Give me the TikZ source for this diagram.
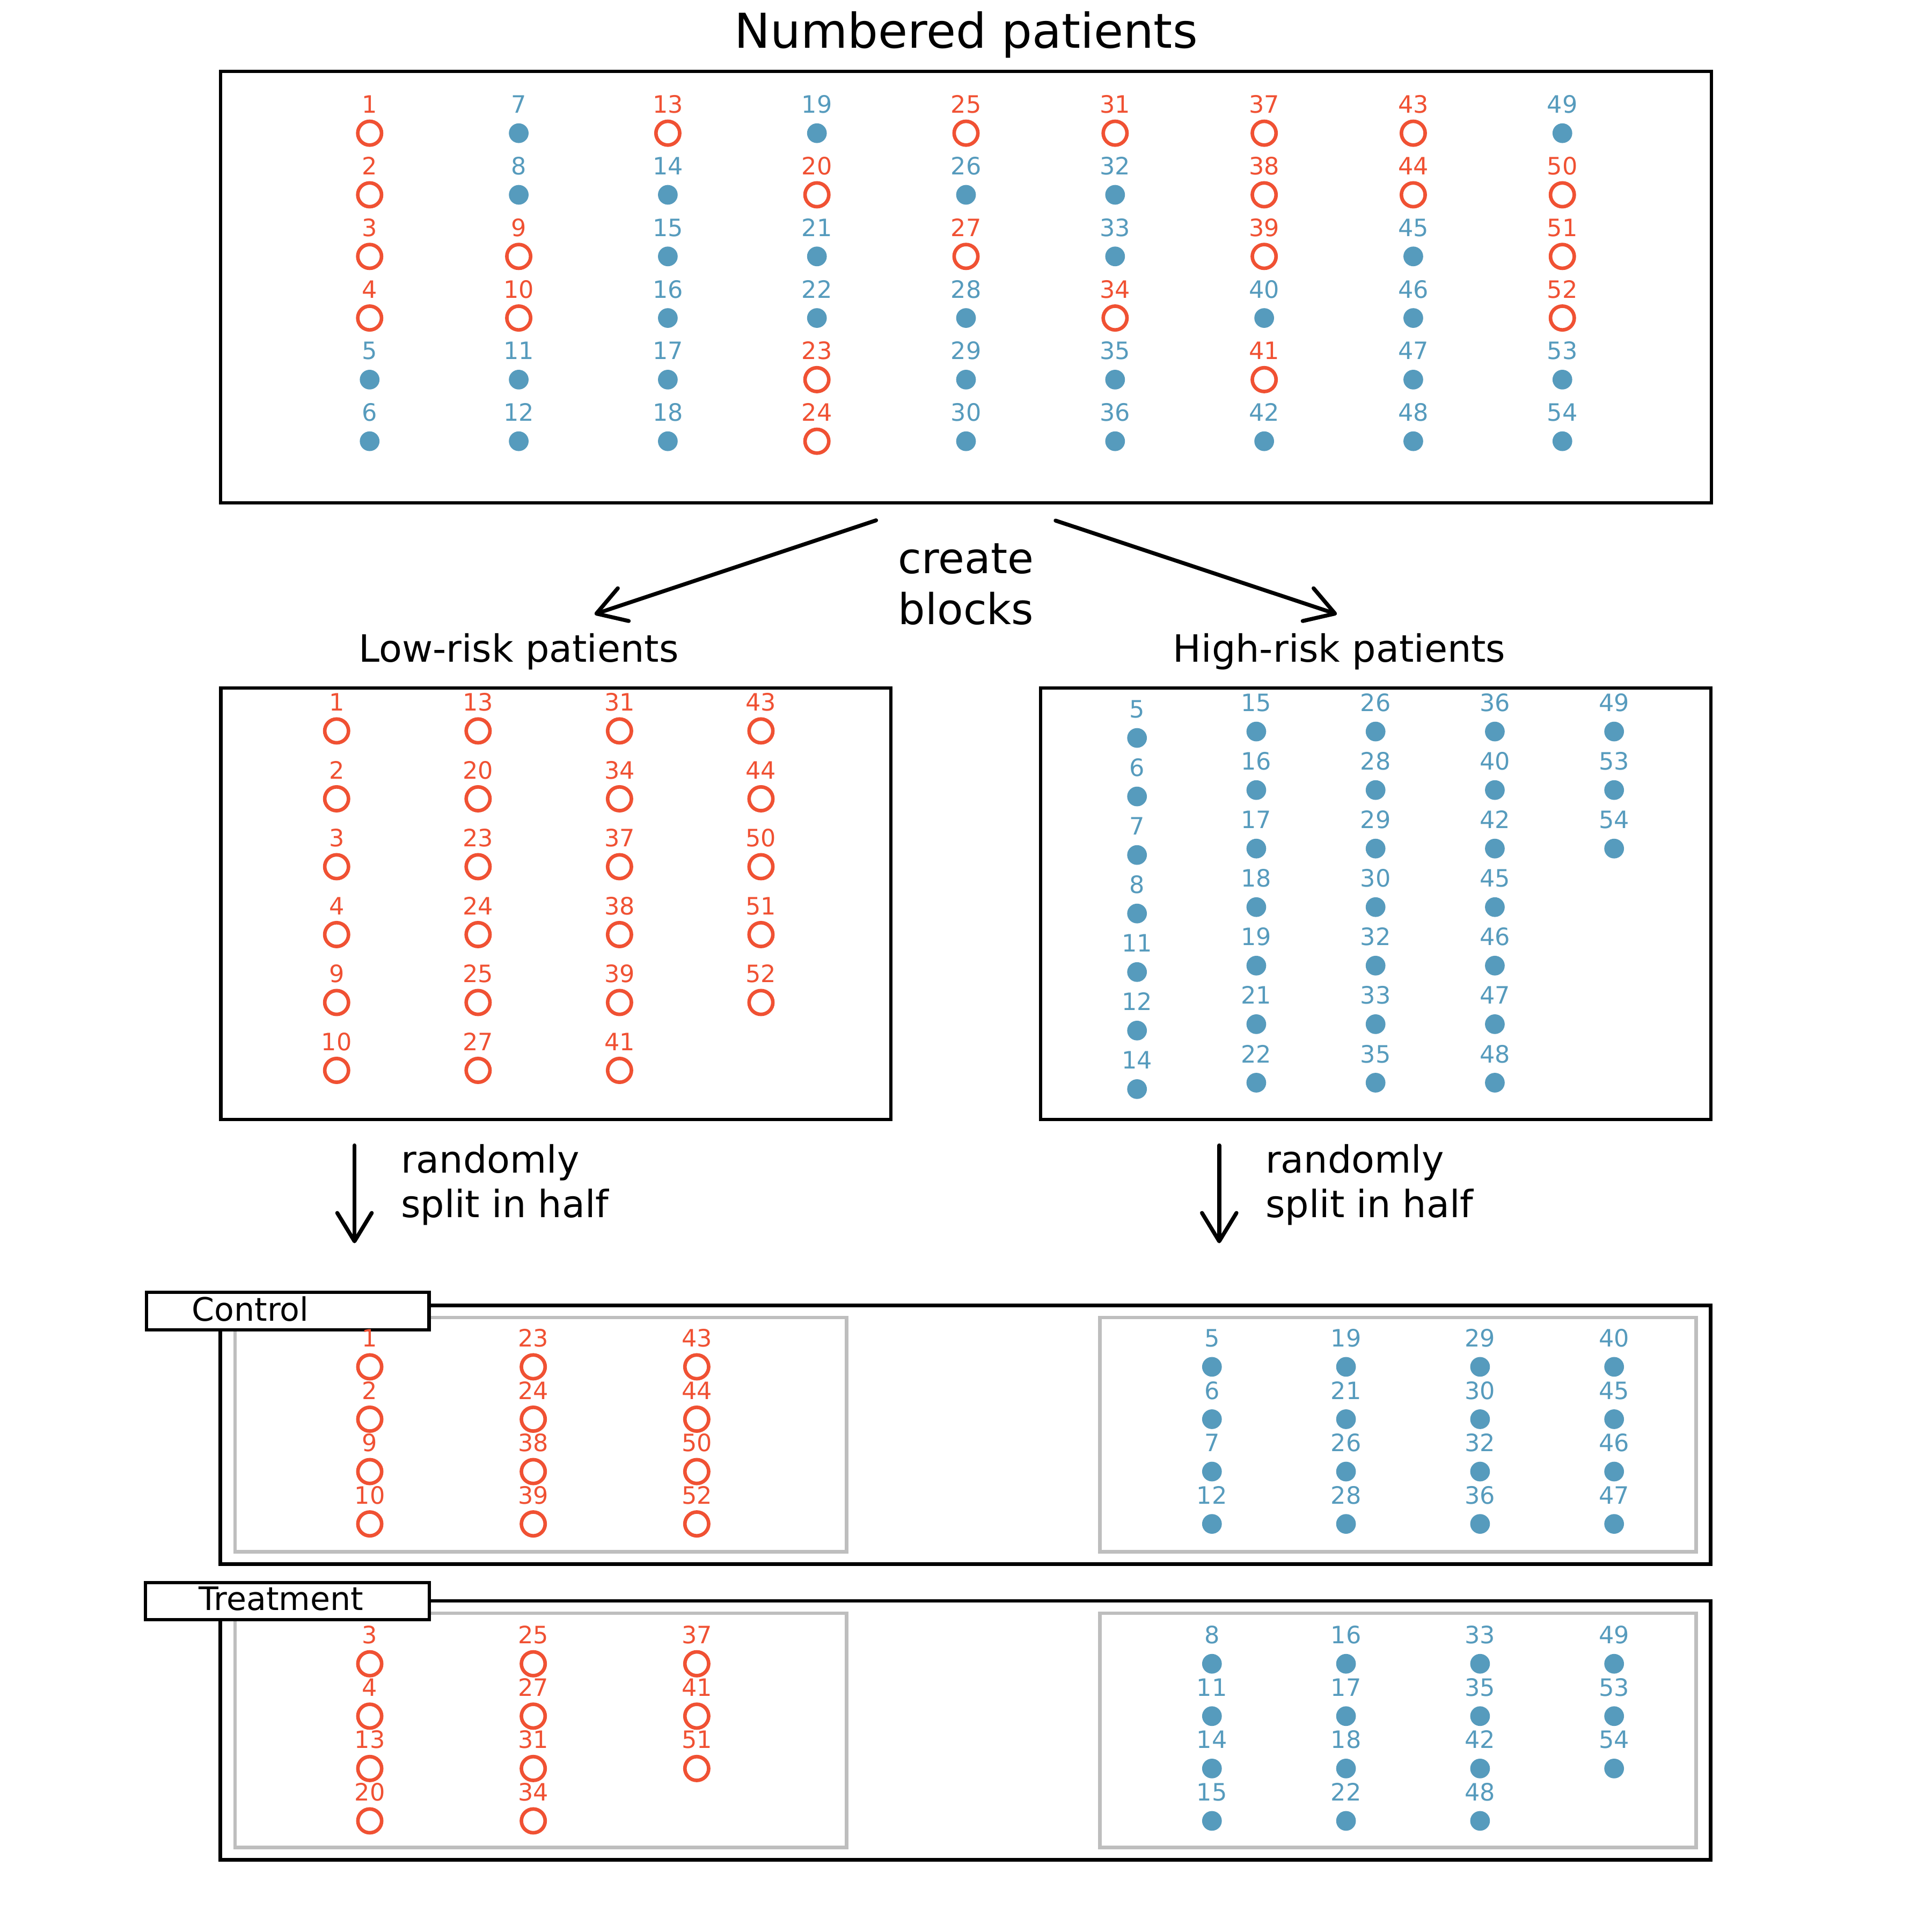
\documentclass[tikz,border=0pt]{standalone}
\usepackage{fontspec}
\setmainfont{DejaVu Sans}
\usetikzlibrary{arrows.meta}
\definecolor{cr}{HTML}{F05133}
\definecolor{cb}{HTML}{569BBD}
\definecolor{gbox}{RGB}{190,190,190}
\tikzset{
  mkr/.style={circle, draw=cr, line width=2.9pt, minimum size=19.3pt, inner sep=0pt, outer sep=0pt},
  mkb/.style={circle, fill=cb, minimum size=16pt, inner sep=0pt, outer sep=0pt},
  lab/.style={inner sep=0pt, anchor=base, font=\fontsize{19.4}{23}\selectfont},
  labr/.style={lab, text=cr},
  labb/.style={lab, text=cb},
  frame/.style={draw=black, line width=2.8pt, inner sep=0pt, outer sep=0pt},
  gframe/.style={draw=gbox, line width=2.8pt, inner sep=0pt, outer sep=0pt},
  tagbox/.style={draw=black, fill=white, line width=2.8pt, inner sep=0pt, outer sep=0pt},
  tagtext/.style={inner sep=0pt, anchor=base west, font=\fontsize{26.2}{31}\selectfont},
  head/.style={inner sep=0pt, anchor=base, font=\fontsize{30.5}{36}\selectfont},
  note/.style={inner sep=0pt, anchor=base west, font=\fontsize{30.5}{36}\selectfont},
  arr/.style={line width=3.2pt, line cap=round, line join=round, -{Straight Barb[length=23pt, width=28pt, round]}},
}
\newcommand\pat[5]{%
  \node[mk#5] (#1m#4) at (#2,#3) {};
  \node[lab#5] (#1l#4) at (#2,{#3-16.3}) {#4};
}
\newcommand\grid[7]{%
  \foreach \items [count=\c from 0] in {#7} {
    \foreach \n [count=\r from 0] in \items {
      \pgfmathsetmacro\xx{#2+#3*\c}
      \pgfmathsetmacro\yy{#4+#5*\r}
      \edef\tmp{\noexpand\pat{#1}{\xx}{\yy}{\n}{#6}}\tmp
    }
  }
}
\begin{document}
\begin{tikzpicture}[x=1pt,y=-1pt]
\useasboundingbox (0,0) rectangle (1568,1568);
\fill[white] (0,0) rectangle (1568,1568);

% title
\node[inner sep=0pt, anchor=base, font=\fontsize{39}{47}\selectfont] (title) at (784,39.2) {Numbered patients};

% top box
\node[frame, minimum width=1209.9pt, minimum height=350pt] (topbox) at (783.95,233) {};
\foreach \items [count=\c from 0] in {
  {1/r,2/r,3/r,4/r,5/b,6/b},
  {7/b,8/b,9/r,10/r,11/b,12/b},
  {13/r,14/b,15/b,16/b,17/b,18/b},
  {19/b,20/r,21/b,22/b,23/r,24/r},
  {25/r,26/b,27/r,28/b,29/b,30/b},
  {31/r,32/b,33/b,34/r,35/b,36/b},
  {37/r,38/r,39/r,40/b,41/r,42/b},
  {43/r,44/r,45/b,46/b,47/b,48/b},
  {49/b,50/r,51/r,52/r,53/b,54/b}} {
  \foreach \n/\k [count=\r from 0] in \items {
    \pgfmathsetmacro\xx{300+121*\c}
    \pgfmathsetmacro\yy{108.1+50*\r}
    \edef\tmp{\noexpand\pat{t}{\xx}{\yy}{\n}{\k}}\tmp
  }
}

% create blocks
\coordinate (cbLs) at (711,422.3);
\coordinate (cbLe) at (482.5,498.5);
\coordinate (cbRs) at (856.7,422.5);
\coordinate (cbRe) at (1085,498.5);
\draw[arr] (cbLs) -- (cbLe);
\draw[arr] (cbRs) -- (cbRe);
\node[inner sep=0pt, anchor=base, font=\fontsize{34.6}{41.3}\selectfont] (create) at (784,465.3) {create};
\node[inner sep=0pt, anchor=base, font=\fontsize{34.6}{41.3}\selectfont] (blocks) at (784,506.6) {blocks};

% block headings
\node[head] (lowhead) at (421,537.2) {Low-risk patients};
\node[head] (highhead) at (1087,537.2) {High-risk patients};

% block boxes
\node[frame, minimum width=543.8pt, minimum height=350pt] (lowbox) at (451.2,733.5) {};
\node[frame, minimum width=544pt, minimum height=350pt] (highbox) at (1116.5,733.5) {};
\grid{lo}{273.2}{114.8}{593.2}{55.1}{r}{{1,2,3,4,9,10},{13,20,23,24,25,27},{31,34,37,38,39,41},{43,44,50,51,52}}
\grid{hz}{922.8}{96.8}{598.9}{47.5}{b}{{5,6,7,8,11,12,14}}
\grid{hi}{1019.6}{96.8}{593.7}{47.5}{b}{{15,16,17,18,19,21,22},{26,28,29,30,32,33,35},{36,40,42,45,46,47,48},{49,53,54}}

% split arrows
\coordinate (sLs) at (287.7,929.6);
\coordinate (sLe) at (287.7,1009);
\coordinate (sRs) at (989.5,929.6);
\coordinate (sRe) at (989.5,1009);
\draw[arr] (sLs) -- (sLe);
\draw[arr] (sRs) -- (sRe);
\node[note] (rndL1) at (325.2,952) {randomly};
\node[note] (rndL2) at (325.2,988) {split in half};
\node[note] (rndR1) at (1026.9,952) {randomly};
\node[note] (rndR2) at (1026.9,988) {split in half};

% control
\node[frame, minimum width=1209.6pt, minimum height=210.1pt] (ctrlbox) at (783.6,1164.45) {};
\node[gframe, minimum width=496.2pt, minimum height=190.2pt] (ctrlL) at (438.9,1164.3) {};
\node[gframe, minimum width=483.9pt, minimum height=190.2pt] (ctrlR) at (1134.55,1164.3) {};
\node[tagbox, minimum width=229.5pt, minimum height=30.5pt] (ctrltag) at (233.55,1064.15) {};
\node[tagtext] (ctrltext) at (155.6,1072.2) {Control};
\grid{cl}{300.1}{132.7}{1109.3}{42.5}{r}{{1,2,9,10},{23,24,38,39},{43,44,50,52}}
\grid{cr}{983.6}{108.8}{1109.3}{42.5}{b}{{5,6,7,12},{19,21,26,28},{29,30,32,36},{40,45,46,47}}

% treatment
\node[frame, minimum width=1209.6pt, minimum height=210.1pt] (trtbox) at (783.6,1404.35) {};
\node[gframe, minimum width=496.2pt, minimum height=190.2pt] (trtL) at (438.9,1404.3) {};
\node[gframe, minimum width=483.9pt, minimum height=190.2pt] (trtR) at (1134.55,1404.3) {};
\node[tagbox, minimum width=230.3pt, minimum height=30.1pt] (trttag) at (233.25,1299.55) {};
\node[tagtext] (trttext) at (161.3,1307) {Treatment};
\grid{tl}{300.1}{132.7}{1350.3}{42.5}{r}{{3,4,13,20},{25,27,31,34},{37,41,51}}
\grid{tr}{983.6}{108.8}{1350.3}{42.5}{b}{{8,11,14,15},{16,17,18,22},{33,35,42,48},{49,53,54}}
\end{tikzpicture}
\end{document}
